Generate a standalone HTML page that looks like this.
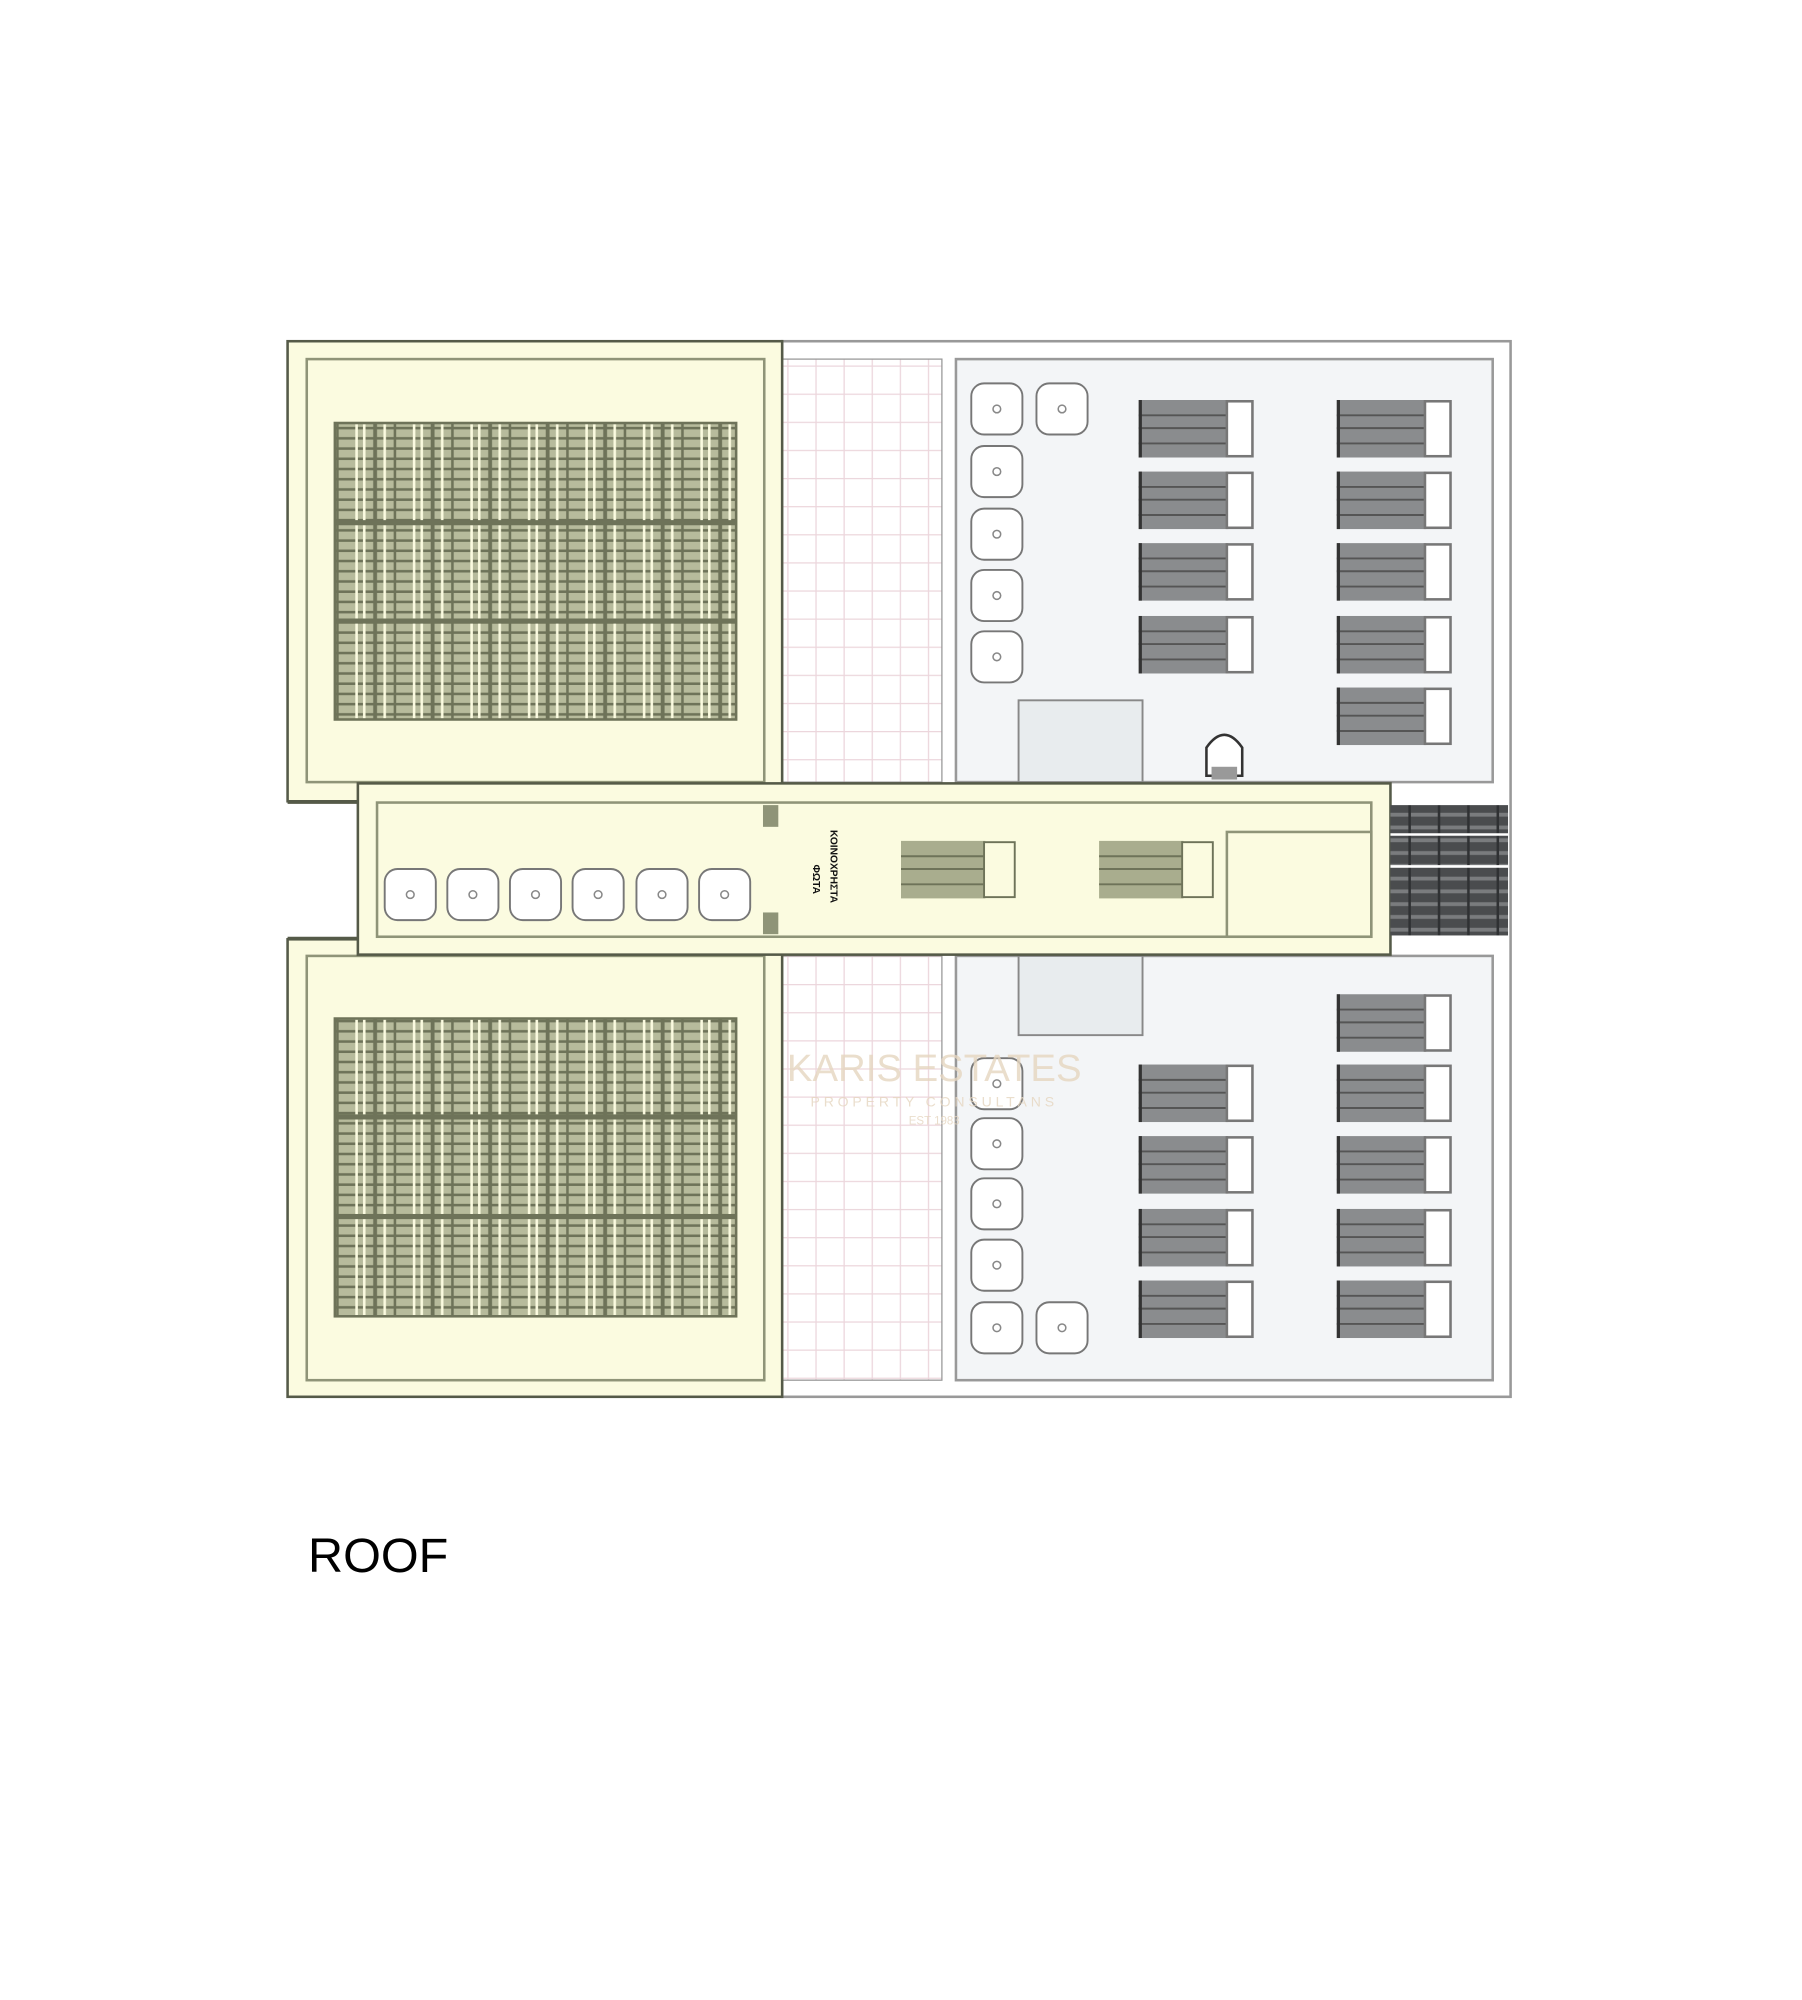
<!DOCTYPE html>
<html><head><style>html,body{margin:0;padding:0;background:#fff}svg{display:block}</style></head>
<body>
<svg width="1802" height="2000" viewBox="0 0 1410 1565" xmlns="http://www.w3.org/2000/svg">
<defs>
<pattern id="pv" width="45" height="8" patternUnits="userSpaceOnUse">
<rect width="45" height="8" fill="#b7bb9c"/>
<rect y="6" width="45" height="2" fill="#6e7359"/>
<rect x="8" width="2" height="8" fill="#fbfbe0"/>
<rect x="14" width="2" height="8" fill="#fbfbe0"/>
<rect x="22" width="3" height="8" fill="#6e7359"/>
<rect x="30" width="2" height="8" fill="#fbfbe0"/>
<rect x="38" width="2" height="8" fill="#6e7359"/>
</pattern>
<pattern id="pk" width="22" height="22" patternUnits="userSpaceOnUse">
<rect width="22" height="22" fill="#fff"/>
<path d="M0 .5H22M.5 0V22" stroke="#ecd6dc" stroke-width="1"/>
</pattern>
<pattern id="pd" width="23" height="10" patternUnits="userSpaceOnUse">
<rect width="23" height="10" fill="#4a4c4e"/>
<rect y="6" width="23" height="3" fill="#7a7c7e"/>
<rect x="21" width="2" height="10" fill="#2f3133"/>
</pattern>
<g id="st"><rect x="-20" y="-20" width="40" height="40" rx="10" fill="#fff" stroke="#777" stroke-width="1.5"/><circle r="3" fill="none" stroke="#888" stroke-width="1.2"/></g>
<g id="lg"><rect width="70" height="45" fill="#8a8c8e"/><path d="M0 12H70M0 22H70M0 34H70" stroke="#555" stroke-width="1.5"/><rect x="0" width="2.5" height="45" fill="#333"/><rect x="69" y="1" width="20" height="43" fill="#fff" stroke="#777" stroke-width="2"/></g>
<g id="lgy"><rect width="66" height="45" fill="#a9ad8e"/><path d="M0 12H66M0 22H66M0 34H66" stroke="#6e7359" stroke-width="1.5"/><rect x="65" y="1" width="24" height="43" fill="#fbfbe0" stroke="#6e7359" stroke-width="1.5"/></g>
</defs>

<!-- outer grey frame -->
<rect x="612" y="267" width="570" height="826" fill="#fff" stroke="#999" stroke-width="2"/>
<rect x="612" y="281" width="125" height="331" fill="url(#pk)" stroke="#999" stroke-width="1"/>
<rect x="612" y="748" width="125" height="332" fill="url(#pk)" stroke="#999" stroke-width="1"/>
<rect x="748" y="281" width="420" height="331" fill="#f3f5f7" stroke="#999" stroke-width="2"/>
<rect x="748" y="748" width="420" height="332" fill="#f3f5f7" stroke="#999" stroke-width="2"/>
<rect x="797" y="548" width="97" height="64" fill="#e8ecee" stroke="#888" stroke-width="1.5"/>
<rect x="797" y="748" width="97" height="62" fill="#e8ecee" stroke="#888" stroke-width="1.5"/>

<!-- yellow blocks -->
<rect x="225" y="267" width="387" height="360" fill="#fbfbe0" stroke="#555a48" stroke-width="2"/>
<rect x="240" y="281" width="358" height="331" fill="none" stroke="#8f9478" stroke-width="2"/>
<rect x="262" y="331" width="314" height="232" fill="url(#pv)" stroke="#6e7359" stroke-width="2"/>
<path d="M262 409H576M262 486H576" stroke="#6e7359" stroke-width="4"/>
<rect x="225" y="735" width="387" height="358" fill="#fbfbe0" stroke="#555a48" stroke-width="2"/>
<rect x="240" y="748" width="358" height="332" fill="none" stroke="#8f9478" stroke-width="2"/>
<rect x="262" y="797" width="314" height="233" fill="url(#pv)" stroke="#6e7359" stroke-width="2"/>
<path d="M262 874H576M262 952H576" stroke="#6e7359" stroke-width="4"/>

<!-- corridor -->
<rect x="280" y="613" width="808" height="134" fill="#fbfbe0" stroke="#555a48" stroke-width="2"/>
<path d="M225 628H280M225 734H280" stroke="#555a48" stroke-width="2"/>
<rect x="295" y="628" width="778" height="105" fill="none" stroke="#8f9478" stroke-width="2"/>
<rect x="960" y="651" width="113" height="82" fill="none" stroke="#8f9478" stroke-width="2"/>
<rect x="597" y="630" width="12" height="17" fill="#8f9478"/>
<rect x="597" y="714" width="12" height="17" fill="#8f9478"/>
<use href="#st" x="321" y="700"/><use href="#st" x="370" y="700"/><use href="#st" x="419" y="700"/><use href="#st" x="468" y="700"/><use href="#st" x="518" y="700"/><use href="#st" x="567" y="700"/>
<use href="#lgy" x="705" y="658"/><use href="#lgy" x="860" y="658"/>
<text x="0" y="0" transform="translate(650 678) rotate(90)" font-family="Liberation Sans, sans-serif" font-size="8" font-weight="bold" fill="#111" text-anchor="middle">ΚΟΙΝΟΧΡΗΣΤΑ</text>
<text x="0" y="0" transform="translate(636 688) rotate(90)" font-family="Liberation Sans, sans-serif" font-size="8" font-weight="bold" fill="#111" text-anchor="middle">ΦΩΤΑ</text>
<rect x="1088" y="630" width="92" height="102" fill="url(#pd)"/>
<path d="M1088 653H1180M1088 678H1180" stroke="#fff" stroke-width="2"/>

<!-- dome -->
<path d="M944 607V585Q958 565 972 585V607Z" fill="#fff" stroke="#333" stroke-width="2"/>
<rect x="948" y="600" width="20" height="10" fill="#999"/>

<!-- stools right -->
<use href="#st" x="780" y="320"/><use href="#st" x="831" y="320"/><use href="#st" x="780" y="369"/><use href="#st" x="780" y="418"/><use href="#st" x="780" y="466"/><use href="#st" x="780" y="514"/>
<use href="#st" x="780" y="848"/><use href="#st" x="780" y="895"/><use href="#st" x="780" y="942"/><use href="#st" x="780" y="990"/><use href="#st" x="780" y="1039"/><use href="#st" x="831" y="1039"/>

<!-- loungers -->
<use href="#lg" x="891" y="313"/><use href="#lg" x="891" y="369"/><use href="#lg" x="891" y="425"/><use href="#lg" x="891" y="482"/>
<use href="#lg" x="1046" y="313"/><use href="#lg" x="1046" y="369"/><use href="#lg" x="1046" y="425"/><use href="#lg" x="1046" y="482"/><use href="#lg" x="1046" y="538"/>
<use href="#lg" x="891" y="833"/><use href="#lg" x="891" y="889"/><use href="#lg" x="891" y="946"/><use href="#lg" x="891" y="1002"/>
<use href="#lg" x="1046" y="778"/><use href="#lg" x="1046" y="833"/><use href="#lg" x="1046" y="889"/><use href="#lg" x="1046" y="946"/><use href="#lg" x="1046" y="1002"/>

<!-- watermark -->
<text x="731" y="846" font-family="Liberation Sans, sans-serif" font-size="30" fill="#e6d6c0" text-anchor="middle" opacity="0.8">KARIS ESTATES</text>
<text x="731" y="866" font-family="Liberation Sans, sans-serif" font-size="11" letter-spacing="3" fill="#e6d6c0" text-anchor="middle" opacity="0.8">PROPERTY CONSULTANS</text>
<text x="731" y="880" font-family="Liberation Sans, sans-serif" font-size="9" fill="#e6d6c0" text-anchor="middle" opacity="0.8">EST 1983</text>

<text x="241" y="1230" font-family="Liberation Sans, sans-serif" font-size="38" fill="#000">ROOF</text>
</svg>
</body></html>
